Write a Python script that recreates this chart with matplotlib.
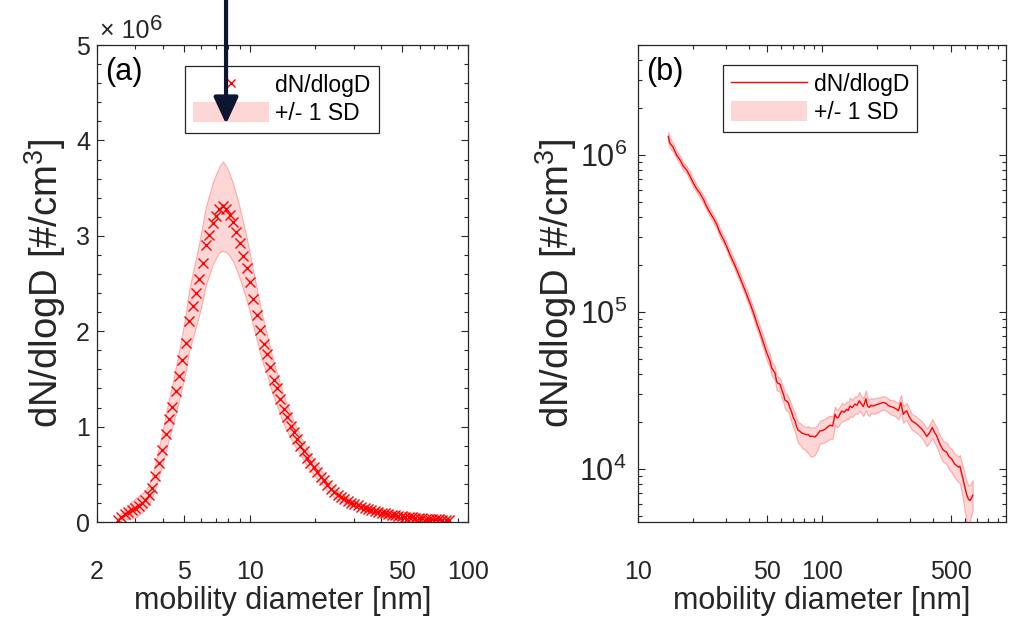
import matplotlib
matplotlib.use("Agg")
import matplotlib.pyplot as plt
import numpy as np
from matplotlib.patches import Patch, FancyArrowPatch
from matplotlib.lines import Line2D
from matplotlib.ticker import MultipleLocator, LogLocator, NullFormatter, FixedLocator, FixedFormatter

plt.rcParams['font.family'] = ['Liberation Sans', 'DejaVu Sans']
plt.rcParams['mathtext.fontset'] = 'custom'
plt.rcParams['mathtext.rm'] = 'Liberation Sans'
plt.rcParams['mathtext.it'] = 'Liberation Sans:italic'

# panel (a): size distribution, linear y (units of 1e6 #/cm3)
d_a = [2.50, 2.59, 2.68, 2.78, 2.88, 2.99, 3.10, 3.21, 3.32, 3.45,
       3.57, 3.70, 3.83, 3.97, 4.12, 4.27, 4.42, 4.58, 4.75, 4.92,
       5.10, 5.28, 5.48, 5.67, 5.88, 6.09, 6.31, 6.54, 6.78, 7.03,
       7.28, 7.55, 7.82, 8.10, 8.40, 8.70, 9.02, 9.34, 9.68, 10.0,
       10.4, 10.8, 11.2, 11.6, 12.0, 12.4, 12.9, 13.3, 13.8, 14.3,
       14.8, 15.4, 15.9, 16.5, 17.1, 17.7, 18.4, 19.0, 19.7, 20.4,
       21.2, 21.9, 22.7, 23.6, 24.4, 25.3, 26.2, 27.2, 28.2, 29.2,
       30.2, 31.3, 32.5, 33.6, 34.9, 36.1, 37.4, 38.8, 40.2, 41.7,
       43.2, 44.7, 46.4, 48.0, 49.8, 51.6, 53.5, 55.4, 57.4, 59.5,
       61.7, 63.9, 66.2, 68.6, 71.1, 73.7, 76.4, 79.1, 82.0]
n_a = [0.02, 0.055, 0.08, 0.10, 0.125, 0.145, 0.17, 0.20, 0.23, 0.285,
       0.36, 0.48, 0.62, 0.75, 0.92, 1.08, 1.21, 1.37, 1.53, 1.70,
       1.88, 2.11, 2.26, 2.40, 2.55, 2.72, 2.90, 3.01, 3.13, 3.21,
       3.28, 3.31, 3.28, 3.22, 3.14, 3.04, 2.92, 2.79, 2.66, 2.52,
       2.34, 2.17, 2.01, 1.87, 1.76, 1.63, 1.49, 1.40, 1.29, 1.18,
       1.10, 1.01, 0.94, 0.87, 0.80, 0.74, 0.67, 0.62, 0.575, 0.525,
       0.475, 0.44, 0.385, 0.345, 0.31, 0.28, 0.26, 0.24, 0.22, 0.20,
       0.19, 0.175, 0.16, 0.148, 0.137, 0.126, 0.116, 0.107, 0.098, 0.09,
       0.083, 0.077, 0.071, 0.065, 0.06, 0.056, 0.052, 0.048, 0.045, 0.042,
       0.039, 0.036, 0.034, 0.032, 0.030, 0.028, 0.026, 0.025, 0.024]
sd_a = [0.03, 0.04, 0.05, 0.07, 0.09, 0.10, 0.10, 0.10, 0.09, 0.10,
        0.11, 0.13, 0.15, 0.17, 0.19, 0.21, 0.22, 0.24, 0.26, 0.28,
        0.30, 0.32, 0.34, 0.36, 0.38, 0.40, 0.41, 0.42, 0.43, 0.44,
        0.45, 0.47, 0.45, 0.43, 0.41, 0.39, 0.37, 0.35, 0.33, 0.31,
        0.29, 0.27, 0.25, 0.23, 0.21, 0.20, 0.18, 0.17, 0.16, 0.15,
        0.14, 0.13, 0.12, 0.11, 0.10, 0.095, 0.09, 0.085, 0.08, 0.075,
        0.07, 0.065, 0.06, 0.056, 0.052, 0.048, 0.045, 0.042, 0.04, 0.038,
        0.036, 0.034, 0.032, 0.03, 0.029, 0.028, 0.027, 0.026, 0.025, 0.024,
        0.023, 0.022, 0.021, 0.02, 0.02, 0.019, 0.019, 0.018, 0.018, 0.017,
        0.017, 0.016, 0.016, 0.015, 0.015, 0.015, 0.014, 0.014, 0.014]

# panel (b): size distribution, log y
d_b = [14.6, 14.9, 15.5, 16.2, 16.9, 17.6, 18.4, 19.2, 20.0, 20.8,
       21.7, 22.7, 23.6, 24.6, 25.7, 26.8, 27.9, 29.1, 30.3, 31.6,
       33.0, 34.4, 35.8, 37.3, 38.9, 40.6, 42.4, 44.2, 46.1, 48.0,
       50.1, 52.1, 53.3, 55.5, 56.7, 57.9, 59.1, 60.4, 61.7, 62.9,
       64.3, 65.6, 67.0, 68.4, 69.9, 71.3, 72.9, 74.4,
       75.9, 77.5, 79.1, 80.8, 82.6, 84.3, 86.1, 88.8, 91.6, 94.5,
       97.5, 100.6, 103.8, 107.1, 110.5, 114.3,
       117.7, 120.0, 122.6, 125.3, 128.0, 132.0, 136.2, 139.0, 141.9, 146.0,
       151.0, 155.0, 159.5, 163.5, 167.7, 173.4, 176.8, 180.7, 185.0, 190.0,
       196.0, 202.3, 208.5, 215.4, 222.0, 229.0, 236.0, 244.0, 252.0, 260.0,
       268.5, 276.5, 282.0, 288.5, 297.0, 307.3, 317.0, 327.2, 337.0, 348.3,
       359.0, 370.9, 384.0, 397.7, 408.0,
       420.0, 437.5, 456.0, 476.0, 490.0, 507.0, 525.0, 540.0, 552.0,
       562.0, 574.0, 586.0, 598.0, 611.0, 624.0, 637.0, 648.0, 659.0]
n_b = [1.31e6, 1.19e6, 1.12e6, 1.00e6, 9.3e5, 8.5e5, 8.0e5, 7.3e5, 6.6e5, 6.1e5,
       5.7e5, 5.2e5, 4.7e5, 4.3e5, 3.95e5, 3.6e5, 3.2e5, 2.9e5, 2.62e5, 2.32e5,
       2.08e5, 1.86e5, 1.66e5, 1.47e5, 1.30e5, 1.14e5, 9.9e4, 8.5e4, 7.4e4, 6.4e4,
       5.5e4, 4.9e4, 4.4e4, 4.1e4, 3.6e4, 3.5e4, 3.48e4, 3.2e4, 3.0e4, 2.75e4,
       2.7e4, 2.65e4, 2.45e4, 2.3e4, 2.12e4, 2.03e4, 1.85e4, 1.76e4,
       1.74e4, 1.70e4, 1.68e4, 1.67e4, 1.65e4, 1.66e4, 1.61e4, 1.62e4, 1.60e4, 1.66e4,
       1.75e4, 1.76e4, 1.79e4, 1.85e4, 1.90e4, 1.88e4,
       2.23e4, 2.12e4, 2.13e4, 2.24e4, 2.34e4, 2.30e4, 2.40e4, 2.36e4, 2.52e4, 2.46e4,
       2.59e4, 2.55e4, 2.72e4, 2.60e4, 2.50e4, 2.80e4, 2.52e4, 2.47e4, 2.55e4, 2.52e4,
       2.56e4, 2.59e4, 2.62e4, 2.65e4, 2.63e4, 2.54e4, 2.50e4, 2.47e4, 2.42e4, 2.35e4,
       2.65e4, 2.23e4, 2.30e4, 2.35e4, 2.17e4, 2.03e4, 1.98e4, 1.93e4, 1.87e4, 1.80e4,
       1.72e4, 1.61e4, 1.70e4, 1.84e4, 1.72e4,
       1.63e4, 1.44e4, 1.32e4, 1.28e4, 1.20e4, 1.16e4, 1.08e4, 1.05e4, 1.03e4,
       1.04e4, 9.4e3, 8.5e3, 7.65e3, 6.9e3, 6.45e3, 6.3e3, 6.5e3, 6.8e3]
# relative spread below / above the mean
lo_b = [0.06, 0.07, 0.06, 0.05, 0.06, 0.06, 0.05, 0.06, 0.06, 0.05,
        0.06, 0.06, 0.05, 0.06, 0.06, 0.06, 0.07, 0.06, 0.06, 0.06,
        0.06, 0.07, 0.06, 0.07, 0.07, 0.07, 0.08, 0.08, 0.08, 0.09,
        0.10, 0.10, 0.11, 0.10, 0.12, 0.10, 0.11, 0.12, 0.12, 0.12,
        0.13, 0.12, 0.13, 0.14, 0.14, 0.15, 0.16, 0.17,
        0.18, 0.19, 0.20, 0.20, 0.22, 0.24, 0.25, 0.26, 0.23, 0.20,
        0.17, 0.17, 0.17, 0.18, 0.18, 0.17,
        0.14, 0.13, 0.12, 0.13, 0.14, 0.12, 0.13, 0.12, 0.14, 0.13,
        0.13, 0.12, 0.14, 0.12, 0.13, 0.15, 0.12, 0.12, 0.11, 0.11,
        0.11, 0.11, 0.10, 0.10, 0.10, 0.10, 0.11, 0.11, 0.11, 0.12,
        0.14, 0.12, 0.12, 0.13, 0.12, 0.12, 0.12, 0.12, 0.12, 0.12,
        0.13, 0.13, 0.13, 0.14, 0.14,
        0.15, 0.15, 0.16, 0.16, 0.17, 0.18, 0.18, 0.19, 0.20,
        0.22, 0.24, 0.27, 0.30, 0.33, 0.30, 0.26, 0.22, 0.20]
hi_b = [0.07, 0.08, 0.06, 0.06, 0.06, 0.05, 0.06, 0.06, 0.06, 0.06,
        0.05, 0.06, 0.06, 0.06, 0.06, 0.05, 0.06, 0.06, 0.06, 0.07,
        0.07, 0.06, 0.07, 0.07, 0.08, 0.07, 0.08, 0.08, 0.09, 0.10,
        0.09, 0.10, 0.09, 0.10, 0.09, 0.10, 0.10, 0.10, 0.11, 0.10,
        0.11, 0.10, 0.11, 0.11, 0.12, 0.12, 0.12, 0.12,
        0.13, 0.13, 0.12, 0.12, 0.12, 0.13, 0.14, 0.14, 0.15, 0.15,
        0.16, 0.17, 0.17, 0.16, 0.15, 0.15,
        0.12, 0.12, 0.13, 0.12, 0.13, 0.12, 0.12, 0.13, 0.13, 0.12,
        0.12, 0.13, 0.14, 0.12, 0.13, 0.13, 0.12, 0.12, 0.11, 0.11,
        0.11, 0.10, 0.10, 0.10, 0.10, 0.10, 0.10, 0.11, 0.11, 0.11,
        0.12, 0.13, 0.12, 0.12, 0.12, 0.11, 0.11, 0.11, 0.11, 0.12,
        0.12, 0.12, 0.13, 0.13, 0.14,
        0.13, 0.14, 0.14, 0.15, 0.15, 0.16, 0.16, 0.17, 0.17,
        0.18, 0.18, 0.19, 0.20, 0.21, 0.22, 0.25, 0.26, 0.25]

xticks_a = [2, 5, 10, 50, 100]
xticks_b = [10, 50, 100, 500]
mode_d = 7.8   # diameter the arrow points at

d_a = np.array(d_a); n_a = np.array(n_a); sd_a = np.array(sd_a)
d_b = np.array(d_b); n_b = np.array(n_b); lo_b = np.array(lo_b); hi_b = np.array(hi_b)

red = '#ff0000'
band_face = (1, 0, 0, 0.16)
band_edge = (1, 0, 0, 0.28)
axc = '#262626'
tick_fs = 18
lab_fs = 22
ylab_fs = 27.5

fig = plt.figure(figsize=(10.09, 6.18), dpi=100)
ax1 = fig.add_axes([0.0961, 0.1553, 0.3677, 0.7718])
ax2 = fig.add_axes([0.6323, 0.1553, 0.3647, 0.7718])

def style(ax):
    for s in ax.spines.values():
        s.set_color(axc)
        s.set_linewidth(0.9)
    ax.tick_params(which='both', direction='in', top=True, right=True, colors=axc,
                   labelsize=tick_fs, width=0.8)
    ax.tick_params(which='major', length=5)
    ax.tick_params(which='minor', length=3)
    ax.tick_params(axis='x', pad=27)
    ax.tick_params(axis='y', pad=5)

# ---- (a)
ax1.fill_between(d_a, np.clip(n_a - sd_a, 0, None), n_a + sd_a,
                 facecolor=band_face, edgecolor=band_edge, lw=0.8)
ax1.plot(d_a, n_a, 'x', color=red, ms=7.5, mew=1.0)
ax1.set_xscale('log')
ax1.set_xlim(2, 100)
ax1.set_ylim(0, 5)
ax1.xaxis.set_major_locator(FixedLocator(xticks_a))
ax1.xaxis.set_major_formatter(FixedFormatter([str(t) for t in xticks_a]))
ax1.xaxis.set_minor_locator(LogLocator(base=10, subs=np.arange(2, 10)))
ax1.xaxis.set_minor_formatter(NullFormatter())
ax1.yaxis.set_major_locator(MultipleLocator(1))
ax1.yaxis.set_minor_locator(MultipleLocator(0.2))
style(ax1)
ax1.set_xlabel('mobility diameter [nm]', fontsize=lab_fs, color=axc, labelpad=2)
ax1.set_ylabel('dN/dlogD [#/cm$^3$]', fontsize=ylab_fs, color=axc, labelpad=6)
ax1.text(0.008, 1.015, '× 10', transform=ax1.transAxes, fontsize=tick_fs,
         color=axc, ha='left', va='baseline')
ax1.text(0.143, 1.032, '6', transform=ax1.transAxes, fontsize=16,
         color=axc, ha='left', va='baseline')
ax1.text(0.022, 0.975, '(a)', transform=ax1.transAxes, fontsize=22, ha='left', va='top')
h1 = [Line2D([], [], ls='none', marker='x', color=red, ms=6, mew=1.0),
      Patch(facecolor=band_face, edgecolor='none')]
leg = ax1.legend(h1, ['dN/dlogD', '+/- 1 SD'], loc='upper left', bbox_to_anchor=(0.237, 0.956),
                 borderaxespad=0, fontsize=16.5, handlelength=3.3, handleheight=1.0,
                 handletextpad=0.3, borderpad=0.35, labelspacing=0.2, fancybox=False,
                 framealpha=1, edgecolor=axc, numpoints=1)
leg.get_frame().set_linewidth(0.9)

# ---- (b)
ax2.fill_between(d_b, n_b * (1 - lo_b), n_b * (1 + hi_b),
                 facecolor=band_face, edgecolor=band_edge, lw=0.8)
ax2.plot(d_b, n_b, '-', color=red, lw=1.0)
ax2.set_xscale('log')
ax2.set_yscale('log')
ax2.set_xlim(10, 1000)
ax2.set_ylim(4.6e3, 5e6)
ax2.xaxis.set_major_locator(FixedLocator(xticks_b))
ax2.xaxis.set_major_formatter(FixedFormatter([str(t) for t in xticks_b]))
ax2.xaxis.set_minor_locator(LogLocator(base=10, subs=np.arange(2, 10)))
ax2.xaxis.set_minor_formatter(NullFormatter())
ax2.yaxis.set_major_locator(FixedLocator([1e4, 1e5, 1e6]))
ax2.yaxis.set_major_formatter(FixedFormatter(['$10^4$', '$10^5$', '$10^6$']))
ax2.yaxis.set_minor_locator(LogLocator(base=10, subs=np.arange(2, 10)))
ax2.yaxis.set_minor_formatter(NullFormatter())
style(ax2)
ax2.tick_params(axis='y', labelsize=22, pad=8)
ax2.set_xlabel('mobility diameter [nm]', fontsize=lab_fs, color=axc, labelpad=2)
ax2.set_ylabel('dN/dlogD [#/cm$^3$]', fontsize=ylab_fs, color=axc, labelpad=0)
ax2.text(0.022, 0.975, '(b)', transform=ax2.transAxes, fontsize=22, ha='left', va='top')
h2 = [Line2D([], [], color=red, lw=1.0),
      Patch(facecolor=band_face, edgecolor='none')]
leg2 = ax2.legend(h2, ['dN/dlogD', '+/- 1 SD'], loc='upper left', bbox_to_anchor=(0.232, 0.958),
                  borderaxespad=0, fontsize=16.5, handlelength=3.3, handleheight=1.0,
                  handletextpad=0.3, borderpad=0.35, labelspacing=0.2, fancybox=False,
                  framealpha=1, edgecolor=axc)
leg2.get_frame().set_linewidth(0.9)

# arrow pointing at the mode, drawn on top of everything
tip = fig.transFigure.inverted().transform(
    ax1.transData.transform((mode_d, 1.0)))[0]
arrow = FancyArrowPatch((tip, 1.01), (tip, 1 - 124 / 618), transform=fig.transFigure,
                        arrowstyle='-|>,head_length=0.65,head_width=0.3', lw=3,
                        color='#0d1530', mutation_scale=25, shrinkA=0, shrinkB=0,
                        zorder=10)
fig.add_artist(arrow)

fig.savefig('out.png', dpi=100)
